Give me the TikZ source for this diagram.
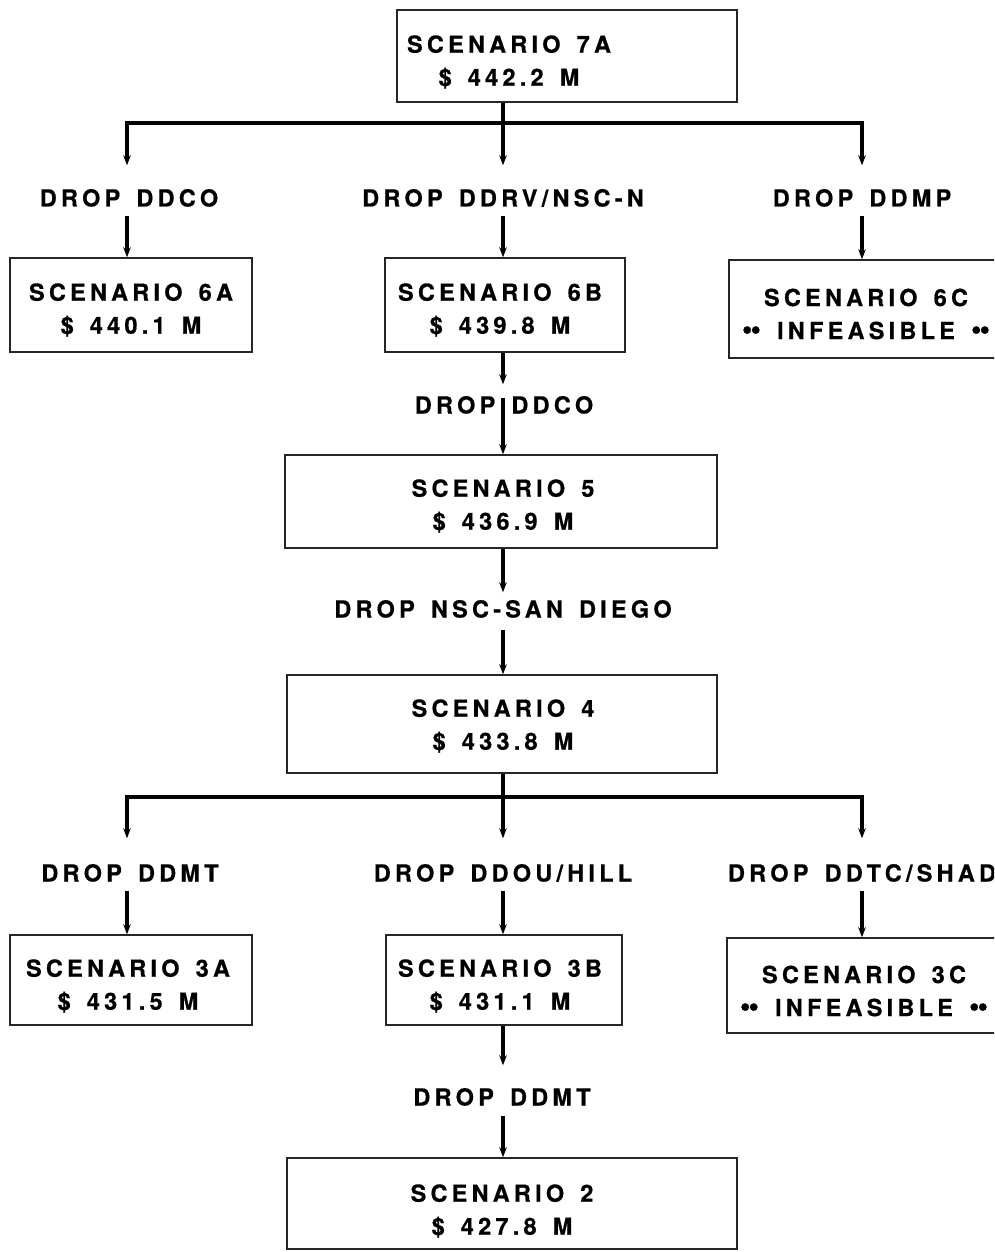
\documentclass[tikz,border=0pt]{standalone}
\usepackage{fontspec}
\setmainfont{TeX Gyre Heros}[LetterSpace=18,WordSpace=1.5,BoldFeatures={FakeBold=0.6}]
\usetikzlibrary{arrows.meta}
\tikzset{
  box/.style={draw=black!85, line width=1.5pt, inner sep=0pt},
  txt/.style={align=center, font=\bfseries\fontsize{23.5}{33}\selectfont, inner sep=0pt},
  lbl/.style={font=\bfseries\fontsize{23.5}{26}\selectfont, inner sep=0pt, text height=17pt, text depth=0pt},
  conn/.style={line width=3.4pt},
  arr/.style={conn, -{Stealth[length=10pt,width=7.5pt]}}
}
\newcommand{\bdots}{{\fontsize{30}{30}\selectfont\textbullet\kern-2pt\textbullet}}
\begin{document}
\begin{tikzpicture}[x=1pt,y=-1pt]
\useasboundingbox (0,0) rectangle (994,1252);
\clip (0,0) rectangle (994,1252);
\fill[white] (0,0) rectangle (994,1252);
% boxes
\node[box, minimum width=340pt, minimum height=92pt] (s7a) at (567,56) {};
\node[txt] (t7a) at (509,62) {SCENARIO 7A\\\$ 442.2 M};
\node[box, minimum width=242pt, minimum height=94pt] (s6a) at (131,305) {};
\node[txt] (t6a) at (131,310) {SCENARIO 6A\\\$ 440.1 M};
\node[box, minimum width=240pt, minimum height=94pt] (s6b) at (505,305) {};
\node[txt] (t6b) at (500,310) {SCENARIO 6B\\\$ 439.8 M};
\node[box, minimum width=291pt, minimum height=98pt] (s6c) at (874.5,309) {};
\node[txt] (t6c) at (866,314) {SCENARIO 6C\\\bdots{} INFEASIBLE \bdots};
\node[box, minimum width=432pt, minimum height=93pt] (s5) at (501,501.5) {};
\node[txt] (t5) at (503,506) {SCENARIO 5\\\$ 436.9 M};
\node[box, minimum width=430pt, minimum height=98pt] (s4) at (502,724) {};
\node[txt] (t4) at (503,726) {SCENARIO 4\\\$ 433.8 M};
\node[box, minimum width=242pt, minimum height=90pt] (s3a) at (131,980) {};
\node[txt] (t3a) at (128,986) {SCENARIO 3A\\\$ 431.5 M};
\node[box, minimum width=236pt, minimum height=90pt] (s3b) at (504,980) {};
\node[txt] (t3b) at (500,986) {SCENARIO 3B\\\$ 431.1 M};
\node[box, minimum width=293pt, minimum height=95pt] (s3c) at (873.5,985.5) {};
\node[txt] (t3c) at (864,991) {SCENARIO 3C\\\bdots{} INFEASIBLE \bdots};
\node[box, minimum width=450pt, minimum height=91pt] (s2) at (512,1203.5) {};
\node[txt] (t2) at (502,1211) {SCENARIO 2\\\$ 427.8 M};
% labels
\node[lbl] (l6a) at (129,198) {DROP DDCO};
\node[lbl] (l6b) at (503,198) {DROP DDRV/NSC-N};
\node[lbl] (l6c) at (862,198) {DROP DDMP};
\node[lbl] (l5) at (504,405) {DROP DDCO};
\node[lbl] (l4) at (503,609) {DROP NSC-SAN DIEGO};
\node[lbl] (l3a) at (130,873) {DROP DDMT};
\node[lbl] (l3b) at (503,873) {DROP DDOU/HILL};
\node[lbl] (l3c) at (862,873) {DROP DDTC/SHAD};
\node[lbl] (l2) at (502,1097) {DROP DDMT};
% junctions
\coordinate (j1) at (503,123);
\coordinate (jl1) at (127,123);
\coordinate (jr1) at (862,123);
\coordinate (j2) at (503,797);
\coordinate (jl2) at (127,797);
\coordinate (jr2) at (862,797);
% connectors top
\draw[conn] (j1 |- s7a.south) -- (j1);
\draw[conn, line cap=rect] (jl1) -- (jr1);
\draw[arr, shorten >=24pt] (jl1) -- (jl1 |- l6a.north);
\draw[arr, shorten >=24pt] (j1) -- (j1 |- l6b.north);
\draw[arr, shorten >=24pt] (jr1) -- (jr1 |- l6c.north);
\draw[arr, shorten <=9pt] (jl1 |- l6a.south) -- (jl1 |- s6a.north);
\draw[arr, shorten <=9pt] (j1 |- l6b.south) -- (j1 |- s6b.north);
\draw[arr, shorten <=9pt] (jr1 |- l6c.south) -- (jr1 |- s6c.north);
% chain
\draw[arr, shorten >=12pt] (j1 |- s6b.south) -- (j1 |- l5.north);
\draw[arr, shorten <=-7pt] (j1 |- l5.center) -- (j1 |- s5.north);
\draw[arr, shorten >=8pt] (j1 |- s5.south) -- (j1 |- l4.north);
\draw[arr, shorten <=12pt] (j1 |- l4.south) -- (j1 |- s4.north);
% second fan
\draw[conn] (j2 |- s4.south) -- (j2);
\draw[conn, line cap=rect] (jl2) -- (jr2);
\draw[arr, shorten >=26pt] (jl2) -- (jl2 |- l3a.north);
\draw[arr, shorten >=26pt] (j2) -- (j2 |- l3b.north);
\draw[arr, shorten >=26pt] (jr2) -- (jr2 |- l3c.north);
\draw[arr, shorten <=9pt] (jl2 |- l3a.south) -- (jl2 |- s3a.north);
\draw[arr, shorten <=9pt] (j2 |- l3b.south) -- (j2 |- s3b.north);
\draw[arr, shorten <=9pt] (jr2 |- l3c.south) -- (jr2 |- s3c.north);
% bottom
\draw[arr, shorten >=23pt] (j2 |- s3b.south) -- (j2 |- l2.north);
\draw[arr, shorten <=10pt] (j2 |- l2.south) -- (j2 |- s2.north);
\end{tikzpicture}
\end{document}
